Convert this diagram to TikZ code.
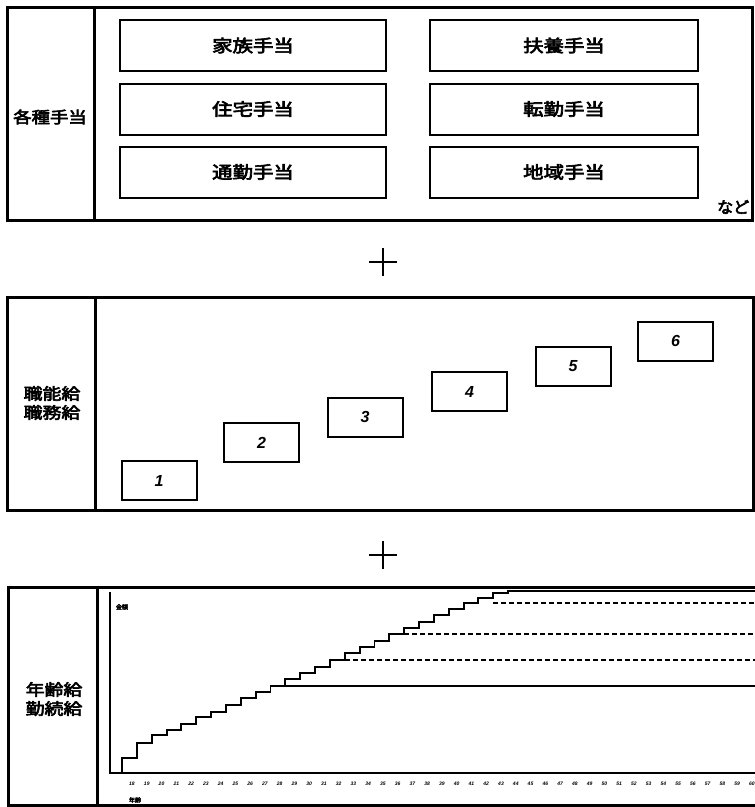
\documentclass[tikz,border=0pt]{standalone}
\usepackage{fontspec}
\setmainfont{Noto Sans CJK JP}[AutoFakeBold=3.5]
\newfontfamily\numfont{Liberation Sans}
\newcommand{\widetxt}[2][1.2]{\scalebox{#1}[1]{#2}}
\begin{document}
\begin{tikzpicture}[x=1pt,y=-1pt,
  panel/.style={draw,line width=3pt},
  divider/.style={line width=3pt},
  item/.style={draw,line width=2pt,minimum width=266pt,minimum height=51pt,inner sep=0pt,font=\fontsize{17}{17}\selectfont\bfseries},
  grade/.style={draw,line width=2pt,minimum width=75pt,minimum height=39pt,inner sep=0pt,font=\numfont\fontsize{16}{16}\selectfont\bfseries\itshape},
  lbl/.style={font=\fontsize{16}{19}\selectfont\bfseries,align=center,inner sep=0pt},
  axis/.style={line width=1.8pt},
  stair/.style={line width=1.9pt},
  dashline/.style={line width=1.8pt,dash pattern=on 5pt off 3pt},
  tick/.style={font=\numfont\fontsize{5}{5}\selectfont\bfseries\itshape,inner sep=0pt},
  tiny/.style={font=\fontsize{6}{6}\selectfont\bfseries,inner sep=0pt},
  plus/.style={line width=1.8pt}]
\useasboundingbox (0,0) rectangle (755,807);
\fill[white] (0,0) rectangle (755,807);

% ---------- top panel ----------
\draw[panel] (7,7) rectangle (752,220);
\draw[divider] (94,7) -- (94,220);
\node[lbl] (teate) at (50,117) {\widetxt[1.15]{各種手当}};
\node[item] (kazoku) at (253,45.5) {\widetxt{家族手当}};
\node[item] (jutaku) at (253,109) {\widetxt{住宅手当}};
\node[item] (tsukin) at (253,172) {\widetxt{通勤手当}};
\node[item,minimum width=268pt] (fuyo) at (564,45.5) {\widetxt{扶養手当}};
\node[item,minimum width=268pt] (tenkin) at (564,109) {\widetxt{転勤手当}};
\node[item,minimum width=268pt] (chiiki) at (564,172) {\widetxt{地域手当}};
\node[font=\fontsize{16}{16}\selectfont\bfseries,anchor=west,inner sep=0pt] (nado) at (717,207) {など};

% plus 1
\draw[plus] (369,262) -- (397,262);
\draw[plus] (383,248) -- (383,276);

% ---------- middle panel ----------
\draw[panel] (7,297) rectangle (753,510);
\draw[divider] (95,297) -- (95,510);
\node[lbl] (shokuno) at (52,403) {\widetxt[1.18]{職能給}\\\widetxt[1.18]{職務給}};
\node[grade] (g1) at (159,480.5) {1};
\node[grade] (g2) at (261.5,442.5) {2};
\node[grade] (g3) at (365,417) {3};
\node[grade] (g4) at (469.5,391.5) {4};
\node[grade] (g5) at (573,366.5) {5};
\node[grade] (g6) at (675.5,341) {6};

% plus 2
\draw[plus] (369,555) -- (397,555);
\draw[plus] (383,541) -- (383,569);

% ---------- bottom panel ----------
\draw[panel] (8,587) rectangle (764,805);
\draw[divider] (97,587) -- (97,805);
\node[lbl] (nenrei) at (54,699) {\widetxt[1.18]{年齢給}\\\widetxt[1.18]{勤続給}};

% axes
\draw[axis] (110,592) -- (110,773) -- (762,773);
\node[tiny] (ylab) at (122,607) {金額};
\node[tiny] (xlab) at (135,800) {年齢};
\foreach \a [count=\k from 0] in {18,...,60}
  \node[tick] (t\a) at (132+14.76*\k,784) {\a};

% staircase
\draw[stair] (122,773)
  \foreach \yy [count=\i from 0] in {758,743,735,730,724,717,712,705,698,692,686,679,673,667,660,653,647,641,634,628,622,615,609,603,598,593,591}
  { -- (122+14.85*\i,\yy) -- (122+14.85*\i+14.85,\yy) };

% plateau lines
\draw[stair] (270.5,686) -- (762,686);
\draw[dashline] (345,660) -- (762,660);
\draw[dashline] (404,634) -- (762,634);
\draw[dashline] (493,603) -- (762,603);
\draw[stair] (508,591) -- (762,591);
\end{tikzpicture}
\end{document}
